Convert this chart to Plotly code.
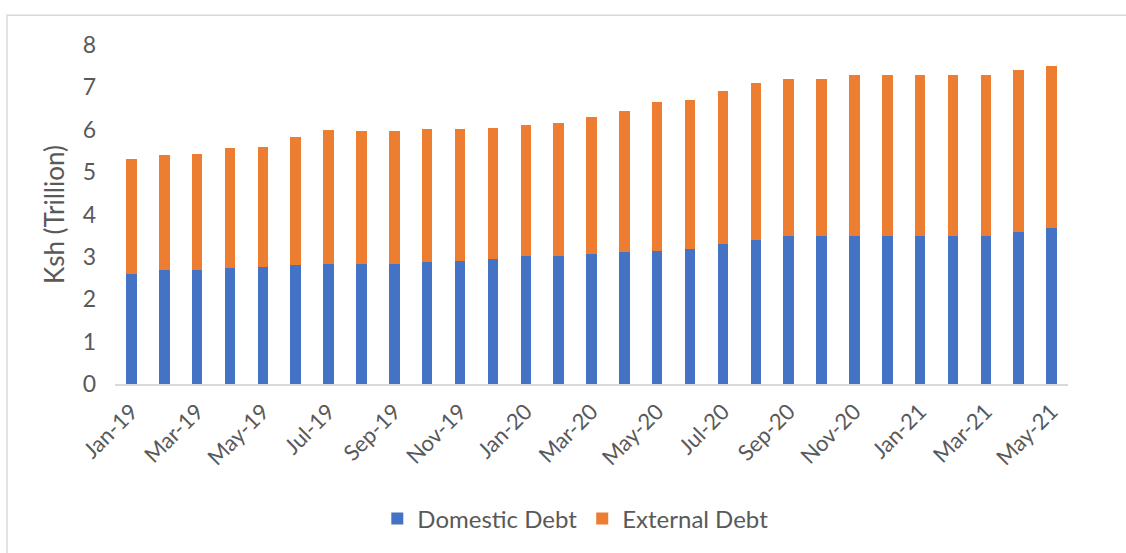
import plotly.graph_objects as go

months = ["Jan-19","Feb-19","Mar-19","Apr-19","May-19","Jun-19","Jul-19","Aug-19","Sep-19","Oct-19","Nov-19","Dec-19",
          "Jan-20","Feb-20","Mar-20","Apr-20","May-20","Jun-20","Jul-20","Aug-20","Sep-20","Oct-20","Nov-20","Dec-20",
          "Jan-21","Feb-21","Mar-21","Apr-21","May-21"]
domestic = [2.60,2.68,2.70,2.73,2.76,2.80,2.84,2.84,2.84,2.89,2.91,2.94,
            3.01,3.03,3.06,3.12,3.15,3.19,3.30,3.39,3.50,3.50,3.50,3.50,
            3.50,3.50,3.50,3.59,3.68]
total = [5.31,5.40,5.42,5.57,5.60,5.82,5.99,5.97,5.96,6.02,6.02,6.05,
         6.11,6.16,6.29,6.44,6.65,6.70,6.91,7.10,7.20,7.20,7.30,7.30,
         7.30,7.30,7.30,7.40,7.50]
external = [round(t - d, 2) for t, d in zip(total, domestic)]
tick_labels = months[::2]

font_fam = "Lato, 'Open Sans', sans-serif"
grey = "#595959"

fig = go.Figure()
fig.add_trace(go.Bar(x=months, y=domestic, name="Domestic Debt",
                     marker=dict(color="#4472C4", line=dict(width=0))))
fig.add_trace(go.Bar(x=months, y=external, name="External Debt",
                     marker=dict(color="#ED7D31", line=dict(width=0))))

fig.update_layout(
    barmode="stack",
    bargap=0.68,
    width=1126, height=553,
    margin=dict(l=115, r=58, t=45, b=166),
    plot_bgcolor="white", paper_bgcolor="white",
    font=dict(family=font_fam, color=grey),
    showlegend=True,
    legend=dict(orientation="h", x=0.483, xanchor="center", y=-0.398, yanchor="middle",
                font=dict(size=24, color=grey), traceorder="normal",
                itemwidth=30, tracegroupgap=0),
    xaxis=dict(type="category", tickmode="array", tickvals=tick_labels, ticktext=tick_labels,
               tickangle=-45, tickfont=dict(size=22, color=grey),
               showline=True, linecolor="#D9D9D9", linewidth=2, showgrid=False,
               ticks="", ticklabelstandoff=4),
    yaxis=dict(range=[0, 8], dtick=1, tickfont=dict(size=23, color=grey),
               showgrid=False, zeroline=False, showline=False,
               ticks="", ticklabelstandoff=18,
               title=dict(text="Ksh (Trillion)", font=dict(size=26, color=grey), standoff=10)),
    shapes=[dict(type="rect", xref="paper", yref="paper",
                 x0=-0.1133, x1=1.08, y0=-0.7, y1=1.0877,
                 line=dict(color="#D9D9D9", width=1.5), fillcolor="rgba(0,0,0,0)", layer="below")],
)

fig.write_html("out.html", config={"displayModeBar": False},
               post_script="document.body.style.margin='0';document.body.style.overflow='hidden';")
